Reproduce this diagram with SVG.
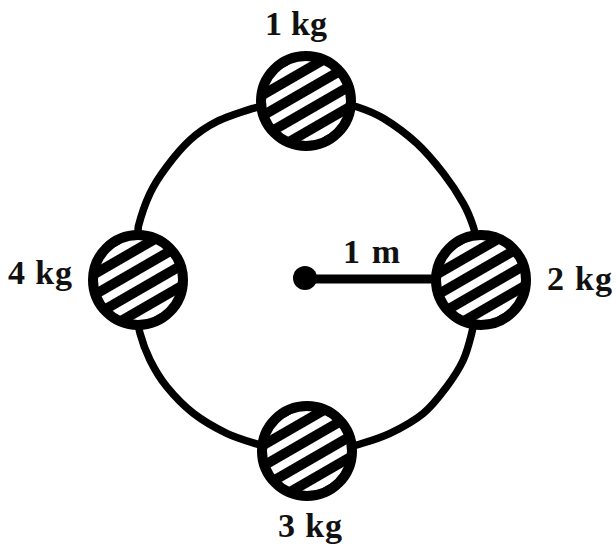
<svg xmlns="http://www.w3.org/2000/svg" width="616" height="549" viewBox="0 0 616 549">
  <style>
    .ring { fill: none; stroke: #000; stroke-width: 7.5; stroke-linecap: round; }
    .radius { fill: none; stroke: #000; stroke-width: 9; }
    .ball-bg { fill: #fff; }
    .ball { fill: url(#hatch); stroke: #000; stroke-width: 10; }
    .label { font-family: "Liberation Serif", "Times New Roman", serif; font-size: 34px; font-weight: bold; fill: #111; }
  </style>
  <defs>
    <pattern id="hatch" patternUnits="userSpaceOnUse" width="18" height="18" patternTransform="rotate(-30)">
      <rect x="0" y="4" width="18" height="10" fill="#000"/>
    </pattern>
  </defs>
  <rect width="616" height="549" fill="#fff"/>

  <g id="connectors">
    <path id="arc-upper-left" class="ring" d="M137,245 L138.3,226.7 C140.47,218.08 145.27,203.3 150,193.3 C154.730,183.3 160.03,175.58 166.7,166.7 C173.37,157.82 181.67,147.5 190,140 C198.33,132.5 206.15,126.98 216.7,121.7 C227.25,116.42 244.42,111.08 253.3,108.3 C262.18,105.52 267.2,105.55 270,105"/>
    <path id="arc-upper-right" class="ring" d="M340,104 C342.78,104.45 349.48,104.32 356.7,106.7 C363.92,109.08 373.3,112.2 383.3,118.3 C393.3,124.4 406.7,134.13 416.7,143.3 C426.7,152.47 435.53,163.3 443.3,173.3 C451.07,183.3 458.3,194.4 463.3,203.3 C468.3,212.2 471.02,219.75 473.3,226.7 C475.58,233.65 476.38,241.95 477,245"/>
    <path id="arc-lower-right" class="ring" d="M475,315 C474.45,318.05 473.65,325.8 471.7,333.3 C469.75,340.8 467.47,351.1 463.3,360 C459.13,368.9 453.37,377.82 446.7,386.7 C440.03,395.58 432.75,405.53 423.3,413.3 C413.85,421.07 401.1,428.02 390,433.3 C378.9,438.58 365.03,442.38 356.7,445 C348.37,447.62 342.78,448.33 340,449"/>
    <path id="arc-lower-left" class="ring" d="M274,449 C271.67,448.33 267.88,447.62 260,445 C252.12,442.38 237.82,438.58 226.7,433.3 C215.58,428.02 203.3,421.07 193.3,413.3 C183.3,405.53 173.92,395.58 166.7,386.7 C159.48,377.82 154.45,368.9 150,360 C145.55,351.1 142,340.8 140,333.3 C138,325.8 138.33,318.05 138,315"/>
    <line id="radius-line" class="radius" x1="305" y1="279" x2="440" y2="279"/>
  </g>

  <g id="center">
    <circle cx="305" cy="278" r="12" fill="#000"/>
    <text class="label" x="343" y="263" textLength="57" lengthAdjust="spacing">1 m</text>
  </g>

  <g id="mass-1kg">
    <g transform="translate(306,101)">
      <circle class="ball-bg" r="45"/>
      <circle class="ball" r="45"/>
    </g>
    <text class="label" x="265" y="35" textLength="62" lengthAdjust="spacing">1 kg</text>
  </g>

  <g id="mass-2kg">
    <g transform="translate(481,280)">
      <circle class="ball-bg" r="45"/>
      <circle class="ball" r="45"/>
    </g>
    <text class="label" x="547" y="290" textLength="65" lengthAdjust="spacing">2 kg</text>
  </g>

  <g id="mass-3kg">
    <g transform="translate(307,451)">
      <circle class="ball-bg" r="45"/>
      <circle class="ball" r="45"/>
    </g>
    <text class="label" x="278" y="537" textLength="64" lengthAdjust="spacing">3 kg</text>
  </g>

  <g id="mass-4kg">
    <g transform="translate(138,280)">
      <circle class="ball-bg" r="45"/>
      <circle class="ball" r="45"/>
    </g>
    <text class="label" x="8" y="284" textLength="64" lengthAdjust="spacing">4 kg</text>
  </g>
</svg>
